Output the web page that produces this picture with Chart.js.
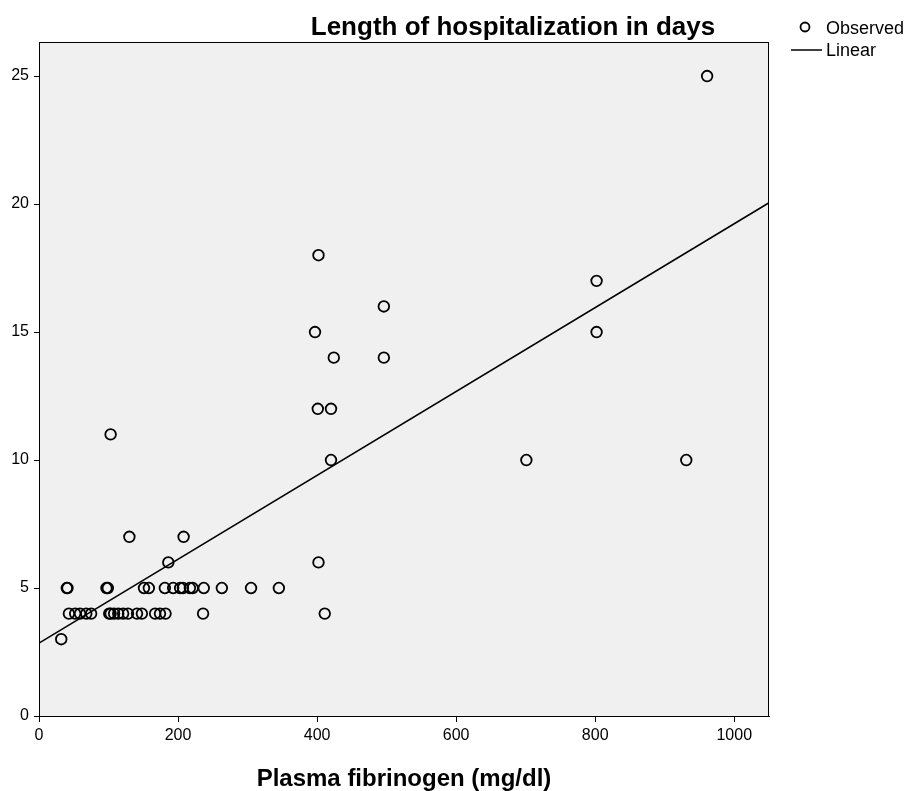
<!DOCTYPE html>
<html>
<head>
<meta charset="utf-8">
<script src="https://cdn.jsdelivr.net/npm/chart.js@4.4.0/dist/chart.umd.min.js"></script>
<style>
  html, body { margin: 0; padding: 0; background: #ffffff; }
  #wrap { width: 909px; height: 791px; }
</style>
</head>
<body>
<div id="wrap"><canvas id="myChart" width="909" height="791"></canvas></div>
<script>
// observed cases: plasma fibrinogen (mg/dl) vs length of stay (days)
var fibrinogen = [32,
  43, 52, 59, 68, 75, 101, 103, 108, 114, 121, 128, 141, 148, 167, 174, 182, 236, 411,
  40, 41, 97, 99, 151, 158, 181, 193, 203, 207, 217, 221, 237, 263, 305, 345,
  186, 402,
  130, 208,
  420, 701, 931,
  103,
  401, 420,
  424, 496,
  397, 802,
  496,
  802,
  402,
  961];
var days = [3,
  4, 4, 4, 4, 4, 4, 4, 4, 4, 4, 4, 4, 4, 4, 4, 4, 4, 4,
  5, 5, 5, 5, 5, 5, 5, 5, 5, 5, 5, 5, 5, 5, 5, 5,
  6, 6,
  7, 7,
  10, 10, 10,
  11,
  12, 12,
  14, 14,
  15, 15,
  16,
  17,
  18,
  25];

// linear fit line at both ends of the axis
var fitX = [0, 1050];
var fitY = [2.85, 20.05];

var xTicks = [0, 200, 400, 600, 800, 1000];
var yTicks = [0, 5, 10, 15, 20, 25];

var chartTitle = 'Length of hospitalization in days';
var xTitle = 'Plasma fibrinogen (mg/dl)';

var FONT = '"Liberation Sans", Arial, sans-serif';

var observed = fibrinogen.map(function (x, i) { return { x: x, y: days[i] }; });
var linear = fitX.map(function (x, i) { return { x: x, y: fitY[i] }; });

// grey plot background + frame, title and legend in SPSS style
var spssLook = {
  id: 'spssLook',
  beforeDraw: function (chart) {
    var c = chart.ctx, a = chart.chartArea;
    c.save();
    c.fillStyle = '#f0f0f0';
    c.fillRect(a.left, a.top, a.right - a.left, a.bottom - a.top);
    c.restore();
  },
  afterDraw: function (chart) {
    var c = chart.ctx, a = chart.chartArea;
    c.save();
    c.strokeStyle = '#000';
    c.lineWidth = 1;
    c.strokeRect(a.left + 0.5, a.top + 0.5, a.right - a.left - 1, a.bottom - a.top);

    c.fillStyle = '#000';
    c.font = 'bold 26px ' + FONT;
    c.textAlign = 'center';
    c.textBaseline = 'middle';
    c.fillText(chartTitle, a.left + 474, a.top - 14);

    // legend
    var lx = a.right + 22;
    c.font = '18px ' + FONT;
    c.textAlign = 'left';
    c.lineWidth = 1.8;
    c.beginPath();
    c.arc(lx + 14, a.top - 15, 4.5, 0, Math.PI * 2);
    c.stroke();
    c.fillText(chart.data.datasets[0].label, lx + 35, a.top - 13);
    c.lineWidth = 1.5;
    c.beginPath();
    c.moveTo(lx, a.top + 8);
    c.lineTo(lx + 31, a.top + 8);
    c.stroke();
    c.fillText(chart.data.datasets[1].label, lx + 35, a.top + 9);
    c.restore();
  }
};

var ctx = document.getElementById('myChart').getContext('2d');
new Chart(ctx, {
  type: 'scatter',
  data: {
    datasets: [
      {
        label: 'Observed',
        data: observed,
        pointRadius: 5.3,
        pointBorderWidth: 1.8,
        pointBorderColor: '#000',
        pointBackgroundColor: 'rgba(0,0,0,0)',
        showLine: false
      },
      {
        label: 'Linear',
        type: 'line',
        data: linear,
        borderColor: '#000',
        borderWidth: 1.5,
        pointRadius: 0,
        fill: false
      }
    ]
  },
  options: {
    responsive: false,
    animation: false,
    layout: { padding: { top: 42, right: 140, left: 0, bottom: 0 } },
    plugins: {
      legend: { display: false },
      tooltip: { enabled: false }
    },
    scales: {
      x: {
        type: 'linear',
        min: 0,
        max: 1050,
        afterFit: function (s) { s.height = 75; },
        afterBuildTicks: function (s) { s.ticks = xTicks.map(function (v) { return { value: v }; }); },
        grid: { drawOnChartArea: false, drawTicks: true, tickLength: 6, color: '#000' },
        border: { color: '#000', width: 1 },
        ticks: {
          color: '#000',
          font: { family: FONT, size: 16 },
          padding: 4,
          maxRotation: 0,
          callback: function (v) { return String(v); }
        },
        title: {
          display: true,
          text: xTitle,
          color: '#000',
          font: { family: FONT, size: 24, weight: 'bold', lineHeight: 1 },
          padding: { top: 0, bottom: 0 }
        }
      },
      y: {
        type: 'linear',
        min: 0,
        max: 26.33,
        afterFit: function (s) { s.width = 39; },
        afterBuildTicks: function (s) { s.ticks = yTicks.map(function (v) { return { value: v }; }); },
        grid: { drawOnChartArea: false, drawTicks: true, tickLength: 5, color: '#000' },
        border: { color: '#000', width: 1 },
        ticks: { color: '#000', font: { family: FONT, size: 16 }, padding: 5 }
      }
    }
  },
  plugins: [spssLook]
});
</script>
</body>
</html>
